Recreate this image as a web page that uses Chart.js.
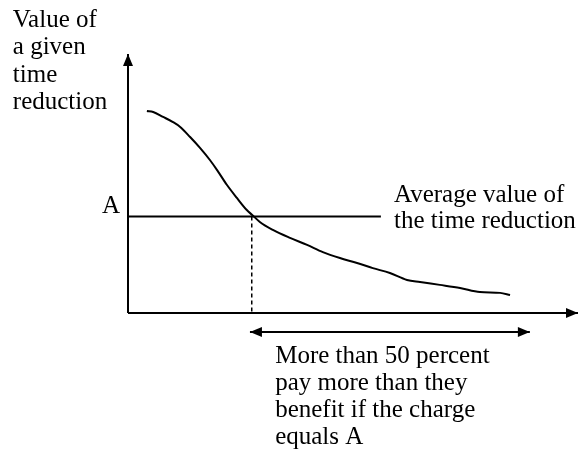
<!DOCTYPE html>
<html>
<head>
<meta charset="utf-8">
<script src="https://cdn.jsdelivr.net/npm/chart.js@4"></script>
<style>
  body { margin: 0; background: #fff; }
  canvas { display: block; }
</style>
</head>
<body>
<canvas id="myChart" width="579" height="454"></canvas>
<script>
// curve: value of a given time reduction, people ranked from highest to lowest value
var curveX = [4.2, 5.6, 7.8, 10.0, 11.6, 13.8, 16.0, 18.2, 19.8, 22.0, 24.2, 26.4, 27.6, 29.3, 32.2, 36.0, 39.8, 43.3, 47.1, 50.9, 54.4, 58.2, 62.0, 64.9, 69.3, 73.8, 78.2, 82.7, 84.9];
var curveY = [78.3, 77.9, 76.0, 74.0, 72.1, 68.2, 64.0, 59.3, 55.4, 49.6, 44.6, 39.9, 38.0, 35.3, 32.2, 29.1, 26.4, 23.6, 21.3, 19.4, 17.4, 15.5, 12.8, 12.0, 10.9, 9.7, 8.1, 7.8, 7.0];
// average value A and where the curve crosses it
var avgValue = 37.4;
var avgLineEnd = 56.2;
var crossX = 27.5;
// span of people who pay more than they benefit
var spanStart = 27.1;
var spanEnd = 89.3;
var spanLevel = -7.4;

var yLabel = ['Value of', 'a given', 'time', 'reduction'];
var avgLabel = ['Average value of', 'the time reduction'];
var spanLabel = ['More than 50 percent', 'pay more than they', 'benefit if the charge', 'equals A'];

function pts(xs, ys) {
    return xs.map(function (x, i) { return { x: x, y: ys[i] }; });
}

var arrowPlugin = {
    id: 'arrows',
    afterDatasetsDraw: function (chart) {
        var c = chart.ctx;
        chart.data.datasets.forEach(function (ds, i) {
            if (!ds.arrow) return;
            var p = chart.getDatasetMeta(i).data;
            function head(a, b) {
                var ang = Math.atan2(b.y - a.y, b.x - a.x);
                c.save();
                c.translate(b.x, b.y);
                c.rotate(ang);
                c.beginPath();
                c.moveTo(0, 0);
                c.lineTo(-12, -5);
                c.lineTo(-12, 5);
                c.closePath();
                c.fillStyle = '#000';
                c.fill();
                c.restore();
            }
            head(p[p.length - 2], p[p.length - 1]);
            if (ds.arrow === 'both') head(p[1], p[0]);
        });
    }
};

var textPlugin = {
    id: 'texts',
    afterDraw: function (chart) {
        var c = chart.ctx;
        var xs = chart.scales.x, ys = chart.scales.y;
        function block(lines, x, y, lh) {
            c.save();
            c.font = '25px "Liberation Serif", "Times New Roman", serif';
            c.fillStyle = '#000';
            c.textAlign = 'left';
            c.textBaseline = 'alphabetic';
            lines.forEach(function (t, i) {
                c.fillText(t, xs.getPixelForValue(x), ys.getPixelForValue(y) + i * lh);
            });
            c.restore();
        }
        block(yLabel, -25.6, 110.9, 27.5);
        block(['A'], -5.8, 38.8, 0);
        block(avgLabel, 59.1, 43.0, 26);
        block(spanLabel, 32.7, -19.4, 27);
    }
};

window.addEventListener('DOMContentLoaded', (event) => {
    var ctx = document.getElementById('myChart').getContext('2d');
    var black = '#000';
    var chart = new Chart(ctx, {
        type: 'scatter',
        data: {
            datasets: [{
                // y axis
                data: [{ x: 0, y: 0 }, { x: 0, y: 100.4 }],
                borderColor: black,
                arrow: 'end'
            }, {
                // x axis
                data: [{ x: 0, y: 0 }, { x: 100, y: 0 }],
                borderColor: black,
                arrow: 'end'
            }, {
                data: pts(curveX, curveY),
                borderColor: black,
                cubicInterpolationMode: 'monotone'
            }, {
                data: [{ x: 0, y: avgValue }, { x: avgLineEnd, y: avgValue }],
                borderColor: black
            }, {
                data: [{ x: crossX, y: avgValue }, { x: crossX, y: 0 }],
                borderColor: black,
                borderDash: [4, 3],
                borderWidth: 1.5
            }, {
                data: [{ x: spanStart, y: spanLevel }, { x: spanEnd, y: spanLevel }],
                borderColor: black,
                arrow: 'both'
            }]
        },
        options: {
            responsive: false,
            animation: false,
            layout: { padding: { left: 128, right: 1, top: 55, bottom: 141 } },
            datasets: {
                scatter: {
                    showLine: true,
                    borderWidth: 2,
                    pointRadius: 0,
                    clip: false
                }
            },
            plugins: {
                colors: { enabled: false },
                legend: { display: false },
                tooltip: { enabled: false }
            },
            scales: {
                x: { type: 'linear', min: 0, max: 100, display: false },
                y: { type: 'linear', min: 0, max: 100, display: false }
            }
        },
        plugins: [arrowPlugin, textPlugin]
    });
});
</script>
</body>
</html>
